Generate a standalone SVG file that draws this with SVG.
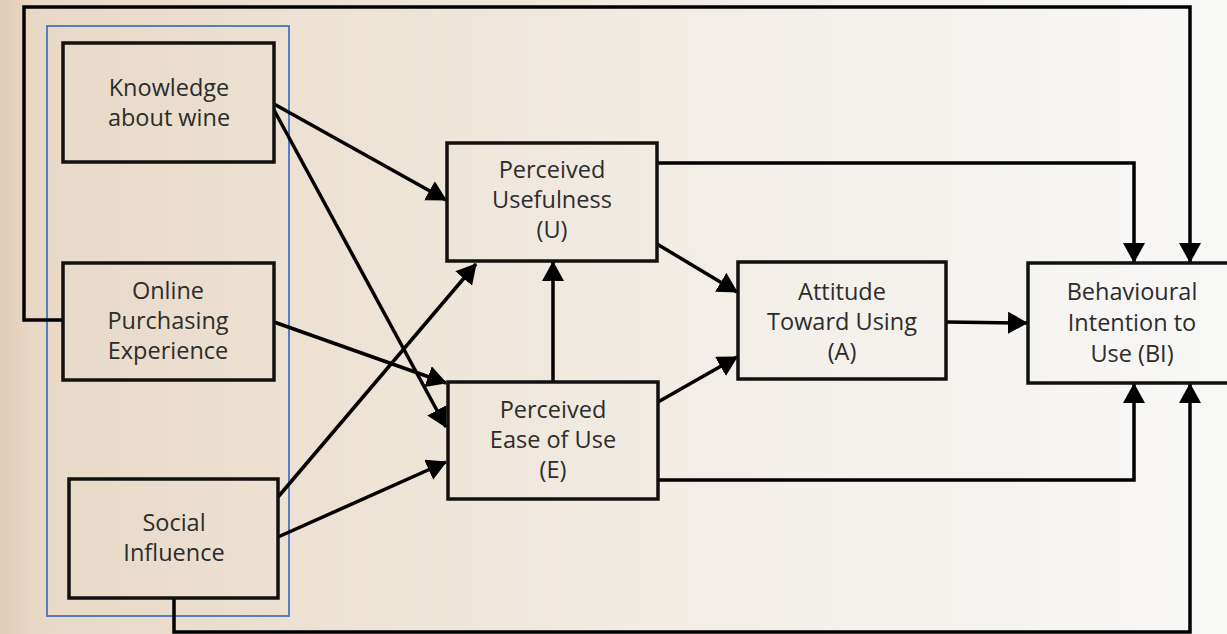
<svg xmlns="http://www.w3.org/2000/svg" width="1227" height="634" viewBox="0 0 1227 634">
<defs>
<linearGradient id="bg" x1="0" y1="0" x2="1" y2="0">
<stop offset="0" stop-color="#e2cdb5"/>
<stop offset="0.03" stop-color="#e8d9c7"/>
<stop offset="0.3" stop-color="#ede3d6"/>
<stop offset="0.6" stop-color="#f3eee8"/>
<stop offset="1" stop-color="#f8f8f7"/>
</linearGradient>
<marker id="ah" markerWidth="20" markerHeight="22" refX="19" refY="11" orient="auto" markerUnits="userSpaceOnUse">
<path d="M0,0 L20,11 L0,22 Z" fill="#000"/>
</marker>
<style>
.box{fill:none;stroke:#111;stroke-width:3.5}
.lbl{font-family:"Open Sans","DejaVu Sans",sans-serif;font-size:23.5px;fill:#2c2c2c;text-anchor:middle}
.c{fill:none;stroke:#000;stroke-width:3.5}
.ca{fill:none;stroke:#000;stroke-width:3.5;marker-end:url(#ah)}
</style>
</defs>
<rect x="0" y="0" width="1227" height="634" fill="url(#bg)"/>

<rect id="group-frame" x="47" y="26" width="242" height="590" fill="none" stroke="#4a72c0" stroke-width="1.8"/>

<g id="connectors">
<polyline class="ca" points="63,320 24,320 24,7 1190,7 1190,262"/>
<polyline class="ca" points="174,598 174,632 1190,632 1190,384"/>
<line class="ca" x1="274" y1="104" x2="446" y2="200"/>
<line class="ca" x1="274" y1="110" x2="446" y2="427"/>
<line class="ca" x1="274" y1="322" x2="446" y2="383"/>
<line class="ca" x1="278" y1="497" x2="476" y2="264"/>
<line class="ca" x1="278" y1="537" x2="446" y2="462"/>
<line class="ca" x1="553" y1="382" x2="553" y2="262"/>
<line class="ca" x1="657" y1="244" x2="737" y2="292"/>
<line class="ca" x1="658" y1="402" x2="737" y2="357"/>
<line class="ca" x1="946" y1="322" x2="1027" y2="323"/>
<polyline class="ca" points="657,163 1134,163 1134,262"/>
<polyline class="ca" points="658,480 1134,480 1134,384"/>
</g>

<g id="knowledge">
<rect class="box" x="63" y="43" width="211" height="119"/>
<text class="lbl" x="169" y="96">Knowledge</text>
<text class="lbl" x="169" y="126">about wine</text>
</g>
<g id="online">
<rect class="box" x="63" y="263" width="211" height="117"/>
<text class="lbl" x="168" y="299">Online</text>
<text class="lbl" x="168" y="329">Purchasing</text>
<text class="lbl" x="168" y="359">Experience</text>
</g>
<g id="social">
<rect class="box" x="69" y="479" width="209" height="119"/>
<text class="lbl" x="174" y="531">Social</text>
<text class="lbl" x="174" y="561">Influence</text>
</g>
<g id="pu">
<rect class="box" x="447" y="143" width="210" height="118"/>
<text class="lbl" x="552" y="178">Perceived</text>
<text class="lbl" x="552" y="208">Usefulness</text>
<text class="lbl" x="552" y="238">(U)</text>
</g>
<g id="pe">
<rect class="box" x="448" y="382" width="210" height="117"/>
<text class="lbl" x="553" y="418">Perceived</text>
<text class="lbl" x="553" y="448">Ease of Use</text>
<text class="lbl" x="553" y="478">(E)</text>
</g>
<g id="attitude">
<rect class="box" x="738" y="262" width="208" height="117"/>
<text class="lbl" x="842" y="300">Attitude</text>
<text class="lbl" x="842" y="330">Toward Using</text>
<text class="lbl" x="842" y="360">(A)</text>
</g>
<g id="bi">
<rect class="box" x="1028" y="263" width="205" height="120"/>
<text class="lbl" x="1132" y="300">Behavioural</text>
<text class="lbl" x="1132" y="331">Intention to</text>
<text class="lbl" x="1132" y="362">Use (BI)</text>
</g>
</svg>
